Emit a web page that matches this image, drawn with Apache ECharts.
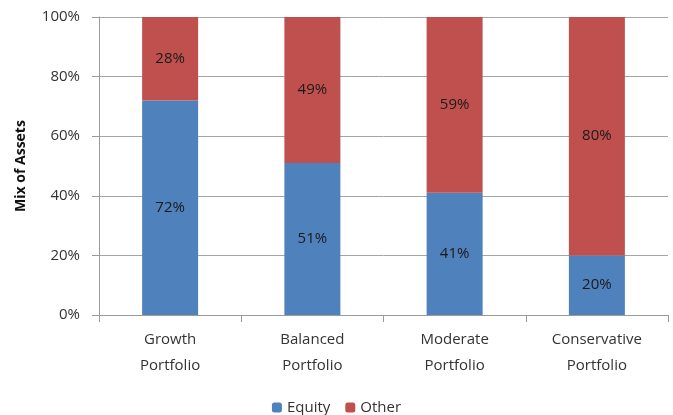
<!DOCTYPE html>
<html><head><meta charset="utf-8">
<script src="https://cdn.jsdelivr.net/npm/echarts@6/dist/echarts.min.js"></script>
<style>html,body{margin:0;padding:0;background:#fff}#c{width:673px;height:415px}</style>
</head><body><div id="c"></div>
<script>
const categories = ['Growth\nPortfolio', 'Balanced\nPortfolio', 'Moderate\nPortfolio', 'Conservative\nPortfolio'];
const equity = [72, 51, 41, 20];
const other = [28, 49, 59, 80];
const yTicks = [0, 20, 40, 60, 80, 100];

const chart = echarts.init(document.getElementById('c'));
const font = 'Open Sans, Liberation Sans, sans-serif';
const lbl = {show: true, position: 'inside', formatter: '{c}%', color: '#1a1a1a', fontSize: 15, fontFamily: font};
chart.setOption({
  animation: false,
  grid: {left: 99, right: 5, top: 17, bottom: 100},
  legend: {
    top: 395, left: 'center', itemWidth: 10, itemHeight: 10, itemGap: 15,
    textStyle: {fontSize: 15, color: '#333', fontFamily: font},
    data: ['Equity', 'Other']
  },
  xAxis: {
    type: 'category', data: categories,
    axisLine: {lineStyle: {color: '#9a9a9a'}},
    axisTick: {show: true, length: 7, lineStyle: {color: '#9a9a9a'}},
    axisLabel: {fontSize: 15, color: '#333', lineHeight: 26, margin: 12, fontFamily: font}
  },
  yAxis: {
    type: 'value', min: yTicks[0], max: yTicks[yTicks.length - 1], interval: 20,
    name: 'Mix of Assets', nameLocation: 'middle', nameGap: 71,
    nameTextStyle: {fontSize: 14, fontWeight: 'bold', color: '#111', fontFamily: font},
    axisLine: {show: true, lineStyle: {color: '#9a9a9a'}},
    axisTick: {show: true, length: 7, lineStyle: {color: '#9a9a9a'}},
    axisLabel: {formatter: '{value}%', fontSize: 15, color: '#333', margin: 19, fontFamily: font},
    splitLine: {lineStyle: {color: '#a6a6a6'}}
  },
  series: [
    {name: 'Equity', type: 'bar', stack: 'a', data: equity, barWidth: 56,
     itemStyle: {color: '#4F81BD'}, label: lbl},
    {name: 'Other', type: 'bar', stack: 'a', data: other, barWidth: 56,
     itemStyle: {color: '#C0504D'}, label: lbl}
  ]
});
</script></body></html>
